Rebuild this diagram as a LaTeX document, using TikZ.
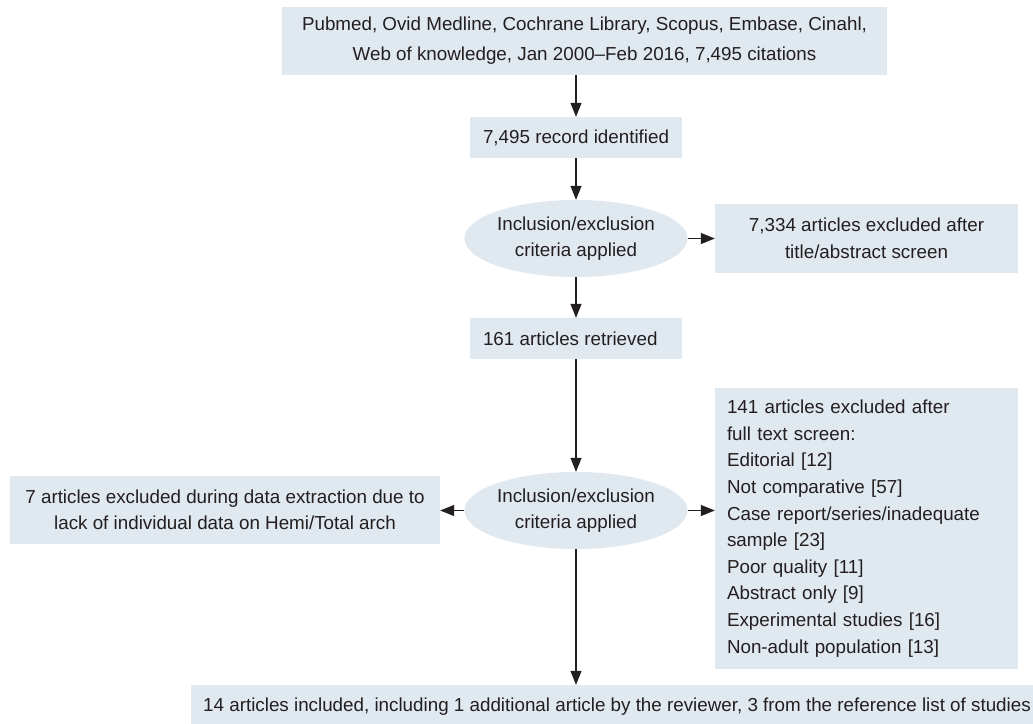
\documentclass[tikz,border=0pt]{standalone}
\usepackage{fontspec}
\setmainfont{Liberation Sans}
\usetikzlibrary{shapes.geometric,arrows.meta}
\definecolor{boxfill}{RGB}{224,232,240}
\definecolor{txt}{RGB}{35,31,32}
\begin{document}
\begin{tikzpicture}[x=1pt,y=-1pt,
  every node/.style={text=txt, font=\fontsize{18.8}{26}\selectfont},
  box/.style={rectangle, fill=boxfill, inner sep=0pt, align=center},
  oval/.style={ellipse, fill=boxfill, inner sep=0pt, minimum width=210pt, minimum height=77pt, align=center},
  arr/.style={-{Triangle[length=14pt,width=11pt]}, line width=1.1pt, draw=txt}]
\useasboundingbox (0,0) rectangle (1033,723);
\fill[white] (0,0) rectangle (1033,723);

\node[box, minimum width=605pt, minimum height=68pt, font=\fontsize{18.8}{30}\selectfont] (top) at (584.5,41)
  {Pubmed, Ovid Medline, Cochrane Library, Scopus, Embase, Cinahl,\\Web of knowledge, Jan 2000--Feb 2016, 7,495 citations};

\node[box, minimum width=212pt, minimum height=41pt, inner xsep=13pt] (rec) at (576,137.5)
  {\makebox[186pt][l]{7,495 record identified}};

\node[oval] (ell1) at (576,238.5) {Inclusion/exclusion\\criteria applied};

\node[box, minimum width=303pt, minimum height=69pt, font=\fontsize{18.8}{27}\selectfont] (ex1) at (866.5,238.5)
  {7,334 articles excluded after\\title/abstract screen};

\node[box, minimum width=212pt, minimum height=41pt, inner xsep=13pt] (ret) at (576,338.5)
  {\makebox[186pt][l]{161 articles retrieved}};

\node[oval] (ell2) at (576,510.5) {Inclusion/exclusion\\criteria applied};

\node[box, minimum width=303pt, minimum height=281pt, inner xsep=12pt, text width=279pt, align=left, font=\fontsize{18.8}{26.6}\selectfont] (ex2) at (866.5,528.5)
  {141 articles excluded after\\full text screen:\\Editorial [12]\\Not comparative [57]\\Case report/series/inadequate\\sample [23]\\Poor quality [11]\\Abstract only [9]\\Experimental studies [16]\\Non-adult population [13]};

\node[box, minimum width=430pt, minimum height=68pt] (ex3) at (225,510)
  {7 articles excluded during data extraction due to\\lack of individual data on Hemi/Total arch};

\node[box, anchor=west, minimum height=44pt, inner xsep=12pt] (fin) at (191,707)
  {\makebox[836pt][l]{14 articles included, including 1 additional article by the reviewer, 3 from the reference list of studies}};

\draw[arr] (top.south -| rec.north) -- (rec.north);
\draw[arr] (rec.south) -- (ell1.north);
\draw[arr] (ell1.east) -- (ex1.west);
\draw[arr] (ell1.south) -- (ret.north);
\draw[arr] (ret.south) -- (ell2.north);
\draw[arr] (ell2.east) -- (ell2.east -| ex2.west);
\draw[arr] (ell2.west) -- (ell2.west -| ex3.east);
\draw[arr] (ell2.south) -- (ell2.south |- fin.north);
\end{tikzpicture}
\end{document}
